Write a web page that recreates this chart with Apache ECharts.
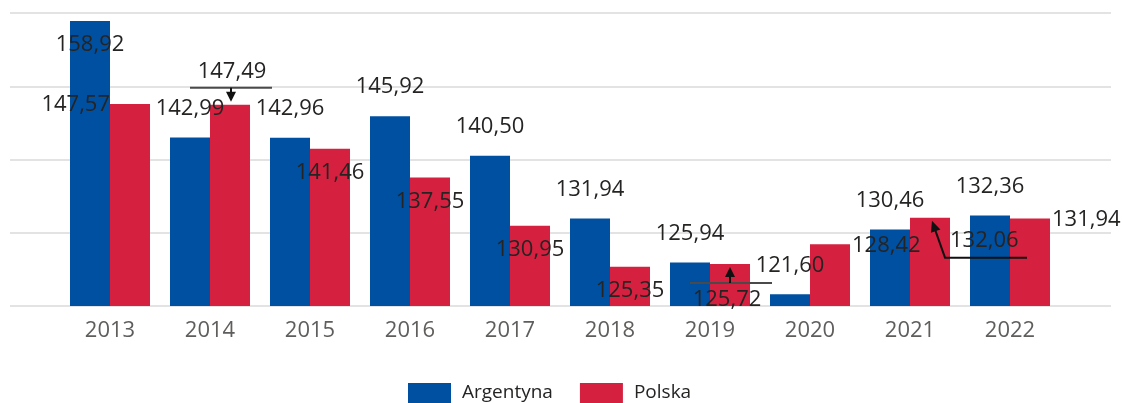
<!DOCTYPE html>
<html>
<head>
<meta charset="utf-8">
<script src="https://cdn.jsdelivr.net/npm/echarts@6/dist/echarts.min.js"></script>
<style>
  html, body { margin: 0; padding: 0; background: #fff; }
  #chart { width: 1122px; height: 403px; }
</style>
</head>
<body>
<div id="chart"></div>
<script>
// ---- data ----
const categories = ['2013', '2014', '2015', '2016', '2017', '2018', '2019', '2020', '2021', '2022'];
const argentyna = [158.92, 142.99, 142.96, 145.92, 140.50, 131.94, 125.94, 121.60, 130.46, 132.36];
const polska    = [147.57, 147.49, 141.46, 137.55, 130.95, 125.35, 125.72, 128.42, 132.06, 131.94];
const seriesNames = ['Argentyna', 'Polska'];
const yTicks = [120, 130, 140, 150, 160];

// ---- styling ----
const FONT = "'Segoe UI', 'Open Sans', 'Noto Sans', sans-serif";
const COLORS = ['#0050A1', '#D5213F'];
const LABEL_COLOR = '#252423';

const LBL = {
  top:       { position: 'top', distance: 18 },
  topFar:    { position: 'top', distance: 22, offset: [2, 0] },
  inside:    { position: 'insideTop', distance: 13 },
  insideFar: { position: 'insideTop', distance: 25, offset: [-3, 0] },
  left:      { position: [0, 0], align: 'right', verticalAlign: 'middle', offset: [0, 1] },
  right:     { position: ['100%', 0], align: 'left', verticalAlign: 'middle', offset: [2, 1] },
  rightLow:  { position: ['100%', 0], align: 'left', verticalAlign: 'middle', offset: [0, 23] }
};
const placeA = ['inside', 'top', 'top', 'top', 'top', 'top', 'top', 'top', 'top', 'top'];
const placeP = ['left', 'topFar', 'inside', 'inside', 'inside', 'inside', 'insideFar', 'right', 'rightLow', 'right'];

function fmt(v) { return v.toFixed(2).replace('.', ','); }

function buildData(values, places) {
  return values.map((v, i) => ({
    value: v,
    label: Object.assign({}, LBL[places[i]])
  }));
}

const chart = echarts.init(document.getElementById('chart'), null, { renderer: 'canvas' });

const baseLabel = {
  show: true,
  color: LABEL_COLOR,
  fontFamily: FONT,
  fontSize: 22,
  formatter: p => fmt(p.value)
};

const option = {
  animation: false,
  backgroundColor: '#ffffff',
  grid: [
    { left: 10, right: 11, top: 13, bottom: 97 },
    { left: 60, right: 62, top: 13, bottom: 97 }
  ],
  xAxis: [
    { gridIndex: 0, type: 'value', show: false, min: 0, max: 1 },
    {
      gridIndex: 1, type: 'category', data: categories,
      axisLine: { show: false }, axisTick: { show: false },
      axisLabel: { color: '#605E5C', fontFamily: FONT, fontSize: 22, margin: 14 }
    }
  ],
  yAxis: [
    {
      gridIndex: 0, type: 'value', min: yTicks[0], max: yTicks[yTicks.length - 1], interval: 10,
      axisLine: { show: false }, axisTick: { show: false }, axisLabel: { show: false },
      splitLine: { show: true, lineStyle: { color: '#E3E3E3', width: 2 } }
    },
    {
      gridIndex: 1, type: 'value', min: yTicks[0], max: yTicks[yTicks.length - 1], interval: 10,
      show: false, splitLine: { show: false }
    }
  ],
  legend: {
    data: seriesNames,
    left: 408, top: 383, padding: 0,
    itemWidth: 43, itemHeight: 20, itemGap: 27,
    icon: 'rect',
    textStyle: { color: LABEL_COLOR, fontFamily: FONT, fontSize: 19, padding: [0, 0, 0, 6] }
  },
  series: [
    {
      name: seriesNames[0], type: 'bar', xAxisIndex: 1, yAxisIndex: 1,
      barCategoryGap: '20%', barGap: '0%',
      itemStyle: { color: COLORS[0] },
      label: baseLabel,
      data: buildData(argentyna, placeA)
    },
    {
      name: seriesNames[1], type: 'bar', xAxisIndex: 1, yAxisIndex: 1,
      barCategoryGap: '20%', barGap: '0%',
      itemStyle: { color: COLORS[1] },
      label: baseLabel,
      data: buildData(polska, placeP)
    }
  ]
};

chart.setOption(option);

// ---- leader lines for displaced Polska labels (computed from the axes) ----
function polskaBar(i) {
  const p0 = chart.convertToPixel({ gridIndex: 1 }, [categories[0], yTicks[0]]);
  const p1 = chart.convertToPixel({ gridIndex: 1 }, [categories[1], yTicks[0]]);
  const bw = p1[0] - p0[0];
  const p = chart.convertToPixel({ gridIndex: 1 }, [categories[i], polska[i]]);
  return { cx: p[0] + bw * 0.2, half: bw * 0.2, top: p[1] };
}
function arrowHead(tip, from, len, wid) {
  const dx = tip[0] - from[0], dy = tip[1] - from[1];
  const d = Math.sqrt(dx * dx + dy * dy);
  const ux = dx / d, uy = dy / d;
  const bx = tip[0] - ux * len, by = tip[1] - uy * len;
  return [tip, [bx - uy * wid, by + ux * wid], [bx + uy * wid, by - ux * wid]];
}
const LINE = { stroke: '#4a4a4a', lineWidth: 2, fill: null };
const HEAD = { fill: '#111111' };
const g = [];
function leaderAboveDown(i) {
  const b = polskaBar(i);
  const ly = b.top - 17;
  const tip = [b.cx + 1, b.top - 3];
  g.push({ type: 'polyline', z: 100, shape: { points: [[b.cx - 40, ly], [b.cx + 42, ly]] }, style: LINE });
  g.push({ type: 'polyline', z: 100, shape: { points: [[tip[0], ly], [tip[0], tip[1] - 8]] }, style: { stroke: '#111', lineWidth: 2 } });
  g.push({ type: 'polygon', z: 101, shape: { points: arrowHead(tip, [tip[0], ly], 10, 5) }, style: HEAD });
}
function leaderBelowUp(i) {
  const b = polskaBar(i);
  const ly = b.top + 19;
  const tip = [b.cx, b.top + 3];
  g.push({ type: 'polyline', z: 100, shape: { points: [[b.cx - 40, ly], [b.cx + 42, ly]] }, style: LINE });
  g.push({ type: 'polyline', z: 100, shape: { points: [[tip[0], ly], [tip[0], tip[1] + 8]] }, style: { stroke: '#111', lineWidth: 2 } });
  g.push({ type: 'polygon', z: 101, shape: { points: arrowHead(tip, [tip[0], ly], 10, 5) }, style: HEAD });
}
function leaderRightDiag(i) {
  const b = polskaBar(i);
  const rx = b.cx + b.half;
  const ly = b.top + 40;
  const corner = [rx - 5, ly];
  const tip = [rx - 18, b.top + 3];
  g.push({ type: 'polyline', z: 100, shape: { points: [[rx + 77, ly], corner, [tip[0] + 2, tip[1] + 6]] }, style: { stroke: '#111', lineWidth: 2, fill: null } });
  g.push({ type: 'polygon', z: 101, shape: { points: arrowHead(tip, corner, 11, 5) }, style: HEAD });
}
leaderAboveDown(1);
leaderBelowUp(6);
leaderRightDiag(8);
chart.setOption({ graphic: g });
</script>
</body>
</html>
